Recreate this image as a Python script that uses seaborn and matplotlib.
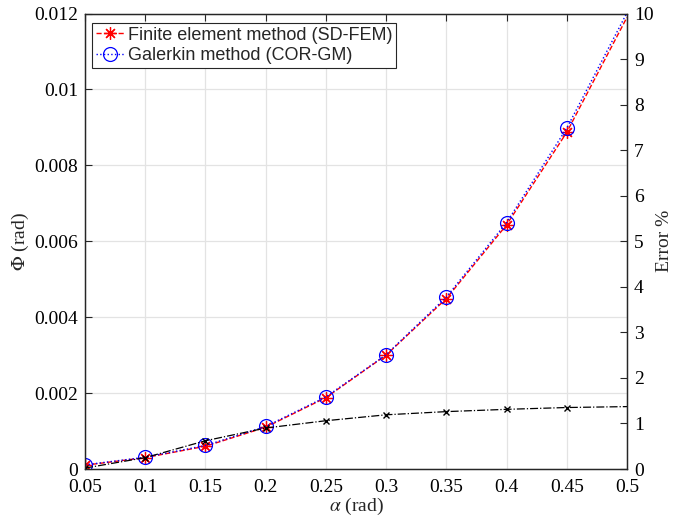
import numpy as np
import pandas as pd
import matplotlib
matplotlib.use("Agg")
import matplotlib.pyplot as plt
import seaborn as sns

alpha = [0.05, 0.10, 0.15, 0.20, 0.25, 0.30, 0.35, 0.40, 0.45, 0.50]
phi_fem = [0.00010, 0.00030, 0.00060, 0.00110, 0.00188, 0.00300, 0.00449, 0.00643, 0.00887, 0.01190]
phi_gm = [0.00011, 0.00031, 0.00062, 0.00112, 0.00190, 0.00301, 0.00453, 0.00649, 0.00898, 0.01202]
error_pct = [0.02, 0.25, 0.62, 0.90, 1.06, 1.19, 1.26, 1.31, 1.35, 1.37]

xticks = [0.05, 0.1, 0.15, 0.2, 0.25, 0.3, 0.35, 0.4, 0.45, 0.5]
xticklabels = ["0.05", "0.1", "0.15", "0.2", "0.25", "0.3", "0.35", "0.4", "0.45", "0.5"]
yticks = [0, 0.002, 0.004, 0.006, 0.008, 0.01, 0.012]
yticklabels = ["0", "0.002", "0.004", "0.006", "0.008", "0.01", "0.012"]
y2ticks = list(range(0, 11))

sns.set_style("white")
plt.rcParams["font.family"] = ["Liberation Serif", "DejaVu Serif"]
plt.rcParams["mathtext.fontset"] = "stix"

df = pd.DataFrame({"alpha": alpha, "fem": phi_fem, "gm": phi_gm, "err": error_pct})

fig = plt.figure(figsize=(6.73, 5.21), dpi=100)
ax = fig.add_axes([0.1263, 0.0998, 0.8053, 0.8742])
ax2 = ax.twinx()

mk = list(range(len(alpha) - 1))
sns.lineplot(data=df, x="alpha", y="fem", ax=ax, color="red", linestyle="--", lw=1.0,
             marker=(8, 2, 0), markersize=9, markerfacecolor="red", markeredgecolor="red",
             markeredgewidth=0.9, markevery=mk,
             label="Finite element method (SD-FEM)")
sns.lineplot(data=df, x="alpha", y="gm", ax=ax, color="blue", linestyle=":", lw=1.0,
             marker="o", markersize=10, markerfacecolor="none", markeredgecolor="blue",
             markeredgewidth=0.9, markevery=mk,
             label="Galerkin method (COR-GM)")
sns.lineplot(data=df, x="alpha", y="err", ax=ax2, color="black", linestyle="-.", lw=0.9,
             marker="x", markersize=4.5, markeredgecolor="black", markeredgewidth=1.0,
             markevery=mk, legend=False)

ax.set_xlim(0.05, 0.5)
ax.set_ylim(0, 0.012)
ax2.set_ylim(0, 10)

ax.set_xticks(xticks)
ax.set_xticklabels(xticklabels)
ax.set_yticks(yticks)
ax.set_yticklabels(yticklabels)
ax2.set_yticks(y2ticks)
ax2.set_yticklabels([str(v) for v in y2ticks])

ax.grid(True, color="#e3e3e3", lw=0.9)
ax.set_axisbelow(True)

for a in (ax, ax2):
    for s in a.spines.values():
        s.set_color("#262626")
        s.set_linewidth(0.9)

ax.tick_params(axis="both", direction="in", length=5, width=0.8, labelsize=14, colors="#262626",
               top=True, labelcolor="black", pad=7)
ax.tick_params(axis="y", right=False, pad=5)
ax2.tick_params(axis="y", direction="in", length=5, width=0.8, labelsize=14, colors="#262626",
                labelcolor="black", pad=5)

ax.set_xlabel(r"$\alpha$ (rad)", fontsize=14, labelpad=0)
ax.set_ylabel(r"$\Phi$ (rad)", fontsize=14, labelpad=2)
ax2.set_ylabel("Error %", fontsize=14, labelpad=2)

leg = ax.legend(loc="upper left", bbox_to_anchor=(0.0, 0.995), fancybox=False, framealpha=1,
                edgecolor="#262626", prop={"family": "Liberation Sans", "size": 13},
                handlelength=1.6, handletextpad=0.2, borderpad=0.2, labelspacing=0.2,
                borderaxespad=0.4)
leg.get_frame().set_linewidth(0.8)

fig.savefig("out.png", dpi=100)
